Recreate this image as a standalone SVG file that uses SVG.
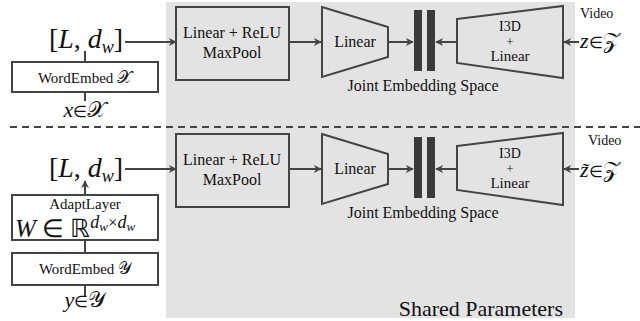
<svg xmlns="http://www.w3.org/2000/svg" width="640" height="321" viewBox="0 0 640 321">
<defs>
<marker id="ah" viewBox="0 0 10 10" refX="9" refY="5" markerWidth="8" markerHeight="8" markerUnits="userSpaceOnUse" orient="auto">
<path d="M0,0 L10,5 L0,10 L3,5 z" fill="#444"/>
</marker>
</defs>
<rect fill="#e3e3e3" x="166" y="2" width="409" height="316"/>
<line stroke="#444" stroke-width="2" stroke-dasharray="7,5" x1="10" y1="127" x2="640" y2="127"/>

<g id="connectors" fill="none" stroke="#444" stroke-width="2">
<path marker-end="url(#ah)" d="M125,42 H176"/>
<path marker-end="url(#ah)" d="M289,42 H321"/>
<path marker-end="url(#ah)" d="M388,42 H413"/>
<path marker-end="url(#ah)" d="M457,42 H436"/>
<path marker-end="url(#ah)" d="M579,42 H564"/>
<path d="M85,51 V62"/>
<path d="M85,92 V101"/>
<path marker-end="url(#ah)" d="M125,169 H176"/>
<path marker-end="url(#ah)" d="M289,169 H321"/>
<path marker-end="url(#ah)" d="M388,169 H413"/>
<path marker-end="url(#ah)" d="M457,169 H436"/>
<path marker-end="url(#ah)" d="M579,169 H564"/>
<path marker-end="url(#ah)" d="M85,195 V181"/>
<path d="M85,240 V253"/>
<path d="M85,285 V296"/>
</g>

<g fill="#111" font-family="Liberation Serif">
<g id="input-top">
<text x="86" y="48" font-size="28" text-anchor="middle">[<tspan font-style="italic">L</tspan>, <tspan font-style="italic">d</tspan><tspan font-style="italic" font-size="18" dy="5">w</tspan><tspan dy="-5">]</tspan></text>
</g>
<g id="wordembed-x">
<rect fill="none" stroke="#444" stroke-width="2" x="12" y="62" width="146" height="30"/>
<text x="85" y="83" font-size="15" text-anchor="middle">WordEmbed <tspan font-size="17">𝒳</tspan></text>
</g>
<g id="x-label">
<text x="85" y="117" font-size="22" text-anchor="middle"><tspan font-style="italic">x</tspan><tspan font-size="16">∈</tspan>𝒳</text>
</g>
<g id="mlp-top">
<rect fill="none" stroke="#444" stroke-width="2" x="176" y="7" width="113" height="73"/>
<text x="232" y="38" font-size="16" text-anchor="middle">Linear + ReLU</text>
<text x="232" y="58" font-size="16" text-anchor="middle">MaxPool</text>
</g>
<g id="linear-top">
<polygon fill="none" stroke="#444" stroke-width="2" points="322,7 388,27 388,57 322,77"/>
<text x="355" y="47" font-size="16" text-anchor="middle">Linear</text>
</g>
<g id="bars-top" fill="#3a3a3a">
<rect x="414" y="10" width="8" height="61"/>
<rect x="427" y="10" width="8" height="61"/>
</g>
<g id="i3d-top">
<polygon fill="none" stroke="#444" stroke-width="2" points="457,19 563,6 563,78 457,63"/>
<text x="510" y="31" font-size="14" text-anchor="middle">I3D</text>
<text x="510" y="46" font-size="13" text-anchor="middle">+</text>
<text x="510" y="61" font-size="15" text-anchor="middle">Linear</text>
</g>
<g id="video-top">
<text x="580" y="18" font-size="14">Video</text>
<text x="580" y="48" font-size="22"><tspan font-style="italic">z</tspan><tspan font-size="16">∈</tspan>𝒵</text>
</g>
<text x="423" y="91" font-size="16" text-anchor="middle">Joint Embedding Space</text>

<g id="input-bottom">
<text x="86" y="177" font-size="28" text-anchor="middle">[<tspan font-style="italic">L</tspan>, <tspan font-style="italic">d</tspan><tspan font-style="italic" font-size="18" dy="5">w</tspan><tspan dy="-5">]</tspan></text>
</g>
<g id="adaptlayer">
<rect fill="none" stroke="#444" stroke-width="2" x="12" y="195" width="146" height="45"/>
<text x="85" y="209" font-size="15" text-anchor="middle">AdaptLayer</text>
<text x="15" y="237" font-size="25"><tspan font-style="italic">W</tspan> ∈ ℝ<tspan font-style="italic" font-size="18" dy="-9">d</tspan><tspan font-style="italic" font-size="13" dy="3">w</tspan><tspan font-size="17" dy="-3">×</tspan><tspan font-style="italic" font-size="18">d</tspan><tspan font-style="italic" font-size="13" dy="3">w</tspan></text>
</g>
<g id="wordembed-y">
<rect fill="none" stroke="#444" stroke-width="2" x="12" y="253" width="146" height="32"/>
<text x="85" y="274" font-size="15" text-anchor="middle">WordEmbed <tspan font-size="17">𝒴</tspan></text>
</g>
<g id="y-label">
<text x="85" y="307" font-size="22" text-anchor="middle"><tspan font-style="italic">y</tspan><tspan font-size="16">∈</tspan>𝒴</text>
</g>
<g id="mlp-bottom">
<rect fill="none" stroke="#444" stroke-width="2" x="176" y="134" width="113" height="73"/>
<text x="232" y="165" font-size="16" text-anchor="middle">Linear + ReLU</text>
<text x="232" y="185" font-size="16" text-anchor="middle">MaxPool</text>
</g>
<g id="linear-bottom">
<polygon fill="none" stroke="#444" stroke-width="2" points="322,134 388,154 388,184 322,204"/>
<text x="355" y="174" font-size="16" text-anchor="middle">Linear</text>
</g>
<g id="bars-bottom" fill="#3a3a3a">
<rect x="414" y="137" width="8" height="61"/>
<rect x="427" y="137" width="8" height="61"/>
</g>
<g id="i3d-bottom">
<polygon fill="none" stroke="#444" stroke-width="2" points="457,146 563,133 563,205 457,190"/>
<text x="510" y="158" font-size="14" text-anchor="middle">I3D</text>
<text x="510" y="173" font-size="13" text-anchor="middle">+</text>
<text x="510" y="188" font-size="15" text-anchor="middle">Linear</text>
</g>
<g id="video-bottom">
<text x="588" y="145" font-size="14">Video</text>
<text x="580" y="177" font-size="22"><tspan font-style="italic">z̃</tspan><tspan font-size="16">∈</tspan>𝒵</text>
</g>
<text x="423" y="218" font-size="16" text-anchor="middle">Joint Embedding Space</text>
<text x="563" y="316" font-size="22" text-anchor="end">Shared Parameters</text>
</g>
</svg>
